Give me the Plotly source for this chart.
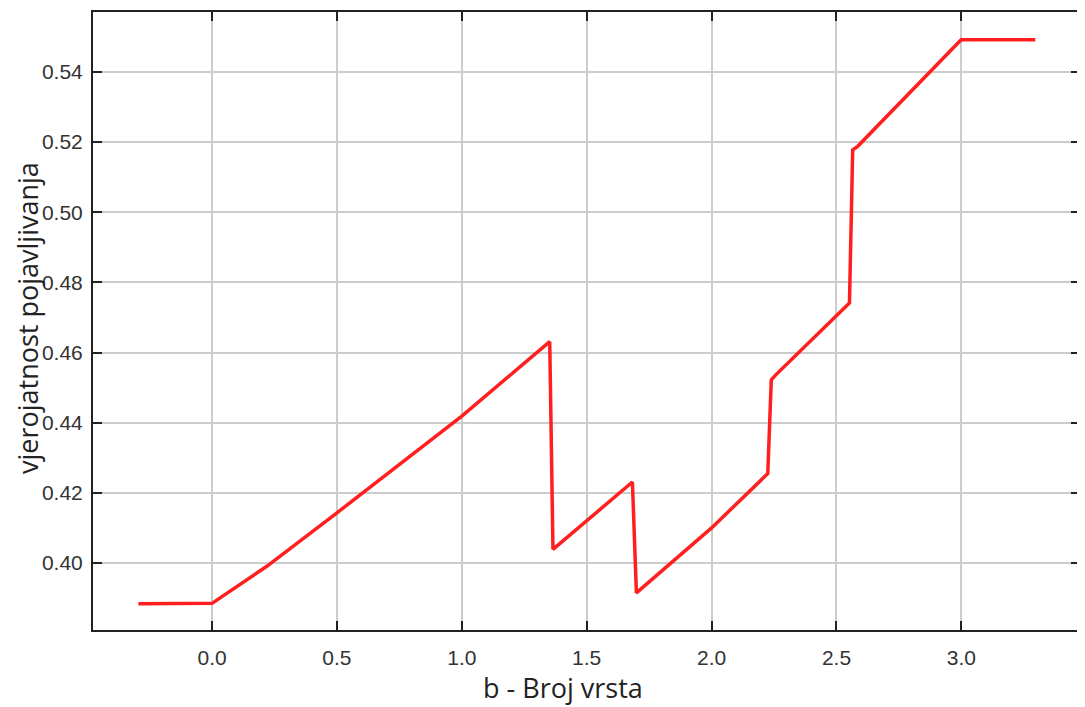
import plotly.graph_objects as go

b_values = [-0.295, 0.0, 0.218, 0.5, 1.0, 1.352, 1.365, 1.683, 1.699, 2.0, 2.225, 2.239, 2.255, 2.552, 2.565, 2.585, 2.999, 3.296]
probability = [0.3884, 0.3885, 0.3990, 0.4143, 0.4419, 0.4631, 0.4039, 0.4231, 0.3915, 0.4100, 0.4255, 0.4522, 0.4535, 0.4741, 0.5178, 0.5188, 0.5492, 0.5492]

x_tick_vals = [0.0, 0.5, 1.0, 1.5, 2.0, 2.5, 3.0]
x_tick_text = ["0.0", "0.5", "1.0", "1.5", "2.0", "2.5", "3.0"]
y_tick_vals = [0.40, 0.42, 0.44, 0.46, 0.48, 0.50, 0.52, 0.54]
y_tick_text = ["0.40", "0.42", "0.44", "0.46", "0.48", "0.50", "0.52", "0.54"]

x_title = "b - Broj vrsta"
y_title = "vjerojatnost pojavljivanja"

fig = go.Figure()
fig.add_trace(go.Scatter(
    x=b_values, y=probability, mode="lines",
    line=dict(color="#ff1f1f", width=3.5),
    showlegend=False,
))

axis_common = dict(
    showline=True, linecolor="#222222", linewidth=2, mirror="allticks",
    ticks="inside", ticklen=9, tickwidth=2, tickcolor="#222222",
    showgrid=True, gridcolor="#cccccc", gridwidth=1.5,
    zeroline=False, automargin=False,
    tickfont=dict(family="Liberation Sans, Arial, sans-serif", size=21, color="#333333"),
)

title_font = dict(family="Open Sans, sans-serif", size=27, color="#222222")

# The page body adds an 8px offset, so margins are compensated for it.
fig.update_layout(
    width=1085, height=707,
    margin=dict(l=85, r=13, t=4, b=85),
    paper_bgcolor="white", plot_bgcolor="white",
    xaxis=dict(range=[-0.4766, 3.475], tickvals=x_tick_vals, ticktext=x_tick_text,
               ticklabelstandoff=8, **axis_common),
    yaxis=dict(range=[0.3809, 0.5571], tickvals=y_tick_vals, ticktext=y_tick_text,
               ticklabelstandoff=4, **axis_common),
    annotations=[
        dict(text=x_title, xref="paper", yref="paper", x=0.476, y=0,
             xanchor="center", yanchor="middle", yshift=-57, showarrow=False, font=title_font),
        dict(text=y_title, xref="paper", yref="paper", x=0, y=0.5, textangle=-90,
             xanchor="center", yanchor="middle", xshift=-66, yshift=3, showarrow=False, font=title_font),
    ],
)

fig.write_html("out.html")
